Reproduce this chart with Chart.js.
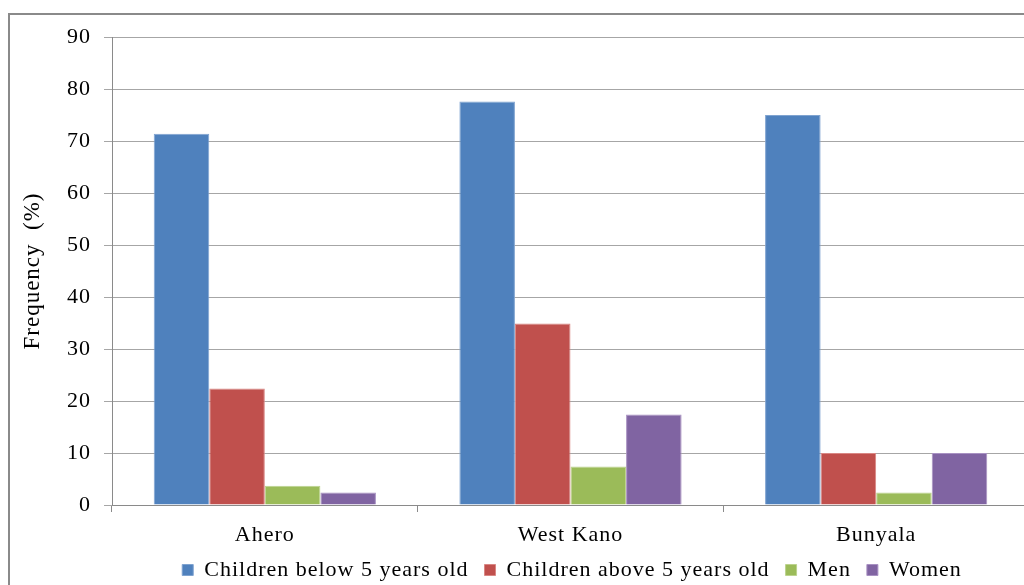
<!DOCTYPE html>
<html>
<head>
<meta charset="utf-8">
<script src="https://cdn.jsdelivr.net/npm/chart.js@4"></script>
<style>
  html, body { margin: 0; padding: 0; background: #fff; overflow: hidden; }
  #wrap { position: relative; width: 1024px; height: 585px; overflow: hidden; }
  #frame { position: absolute; left: 8px; top: 13px; width: 1100px; height: 700px;
           border: 2px solid #8a8a8a; box-sizing: border-box; }
  #freqChart { position: absolute; left: 0; top: 0; }
</style>
</head>
<body>
<div id="wrap">
  <div id="frame"></div>
  <canvas id="freqChart" width="1060" height="585"></canvas>
</div>
<script>
// sites and groups surveyed
const sites = ['Ahero', 'West Kano', 'Bunyala'];
const childrenBelow5 = [71.4, 77.6, 75.0];
const childrenAbove5 = [22.4, 34.9, 10.0];
const men = [3.7, 7.4, 2.4];
const women = [2.4, 17.4, 10.0];
const yTicks = [0, 10, 20, 30, 40, 50, 60, 70, 80, 90];

const serif = "'Liberation Serif', 'Times New Roman', serif";

function series(label, data, color, edge) {
    return {
        label: label,
        data: data,
        backgroundColor: color,
        borderColor: edge,
        borderWidth: 1,
        barPercentage: 1.0,
        categoryPercentage: 0.727
    };
}

// wider text spacing for all labels
const spacing = {
    id: 'spacing',
    beforeLayout(chart) { chart.ctx.letterSpacing = '1px'; },
    beforeDraw(chart) { chart.ctx.letterSpacing = '1px'; }
};

// keep x labels unclipped and sit the legend just under them
const placeLegend = {
    id: 'placeLegend',
    afterLayout(chart) {
        chart.scales.x.bottom = chart.height;
        const lg = chart.legend;
        const h = lg.bottom - lg.top;
        const w = lg.right - lg.left;
        lg.top = 543;
        lg.bottom = 543 + h;
        lg.left = 572 - w / 2;
        lg.right = 572 + w / 2;
    }
};

const ctx = document.getElementById('freqChart').getContext('2d');
new Chart(ctx, {
    type: 'bar',
    data: {
        labels: sites,
        datasets: [
            series('Children below 5 years old', childrenBelow5, '#4F81BD', '#7fa3d0'),
            series('Children above 5 years old', childrenAbove5, '#C0504D', '#d98784'),
            series('Men', men, '#9BBB59', '#bcd38e'),
            series('Women', women, '#8064A2', '#a891c2')
        ]
    },
    plugins: [spacing, placeLegend],
    options: {
        responsive: false,
        animation: false,
        layout: { padding: { top: 37, right: 31, left: 0, bottom: 0 } },
        plugins: {
            legend: {
                position: 'bottom',
                labels: {
                    color: '#000',
                    font: { family: serif, size: 22 },
                    boxWidth: 11,
                    boxHeight: 11,
                    padding: 16
                }
            },
            tooltip: { enabled: false }
        },
        scales: {
            x: {
                grid: {
                    display: true,
                    drawOnChartArea: false,
                    offset: true,
                    color: '#8a8a8a',
                    tickLength: 7
                },
                border: { color: '#8a8a8a' },
                ticks: {
                    color: '#000',
                    font: { family: serif, size: 22 },
                    padding: 10
                },
                afterFit: function (scale) { scale.height = 32; }
            },
            y: {
                min: 0,
                max: 90,
                afterBuildTicks: function (scale) {
                    scale.ticks = yTicks.map(v => ({ value: v }));
                },
                grid: {
                    color: '#a6a6a6',
                    tickLength: 8
                },
                border: { color: '#8a8a8a' },
                ticks: {
                    color: '#000',
                    font: { family: serif, size: 22 },
                    padding: 13
                },
                title: {
                    display: true,
                    text: 'Frequency  (%)',
                    color: '#000',
                    font: { family: serif, size: 23 },
                    padding: { top: 19, bottom: 0 }
                },
                afterFit: function (scale) { scale.width = 112; }
            }
        }
    }
});
</script>
</body>
</html>
